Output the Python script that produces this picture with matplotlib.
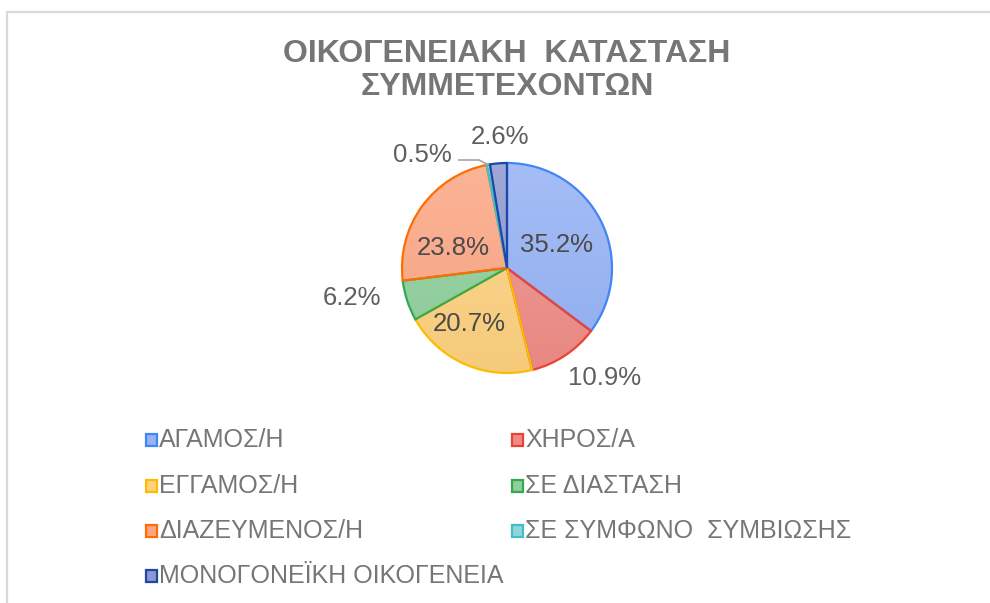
"""pie chart: family status of participants"""

import numpy as np
import matplotlib as mpl
mpl.use('Agg')
import matplotlib.pyplot as plt
from matplotlib.colors import LinearSegmentedColormap, to_rgb
from matplotlib.lines import Line2D
from matplotlib.patches import Rectangle

plt.rcParams['font.family'] = ['Liberation Sans', 'DejaVu Sans']

title = 'ΟΙΚΟΓΕΝΕΙΑΚΗ  ΚΑΤΑΣΤΑΣΗ\nΣΥΜΜΕΤΕΧΟΝΤΩΝ'
categories = ['ΑΓΑΜΟΣ/Η', 'ΧΗΡΟΣ/Α', 'ΕΓΓΑΜΟΣ/Η', 'ΣΕ ΔΙΑΣΤΑΣΗ',
              'ΔΙΑΖΕΥΜΕΝΟΣ/Η', 'ΣΕ ΣΥΜΦΩΝΟ  ΣΥΜΒΙΩΣΗΣ', 'ΜΟΝΟΓΟΝΕΪΚΗ ΟΙΚΟΓΕΝΕΙΑ']
values = [35.2, 10.9, 20.7, 6.2, 23.8, 0.5, 2.6]

edge_colors = ['#4285f4', '#ea4335', '#fbbc04', '#34a853', '#ff6d01', '#46bdc6', '#1c48a8']
fill_colors = ['#95b2f5', '#ef8c86', '#fdd17f', '#8fcf9b', '#fca784', '#8fd6dc', '#8e98cf']

# label offsets from the centre, in units of the radius (Excel "best fit")
label_pos = [(0.47, 0.22), (0.93, -1.05), (-0.36, -0.53), (-1.48, -0.29),
             (-0.51, 0.19), (-0.81, 1.08), (-0.07, 1.25)]
label_inside = [True, False, True, False, True, False, False]

W, H = 990, 603
cx, cy, R = 507, 268, 105

fig = plt.figure(figsize=(W / 100, H / 100), dpi=100)
fig.patch.set_facecolor('white')

# chart frame (only top and left visible)
fig.add_artist(Line2D([7 / W, 7 / W, 1], [0, 1 - 12 / H, 1 - 12 / H],
                      color='#d9d9d9', lw=1.6))

fig.text(cx / W, 1 - 70.5 / H, title, ha='center', va='center',
         fontsize=23, fontweight='bold', color='#767676', linespacing=1.15)

half = 200
ax = fig.add_axes([(cx - half) / W, (H - cy - half) / H, 2 * half / W, 2 * half / H])
ax.axis('off')

wedges, _ = ax.pie(values, startangle=90, counterclock=False, radius=1,
                   wedgeprops=dict(linewidth=1.6))

grad = np.linspace(0, 1, 256).reshape(-1, 1)
for w, fc, ec in zip(wedges, fill_colors, edge_colors):
    w.set_facecolor('none')
    w.set_edgecolor(ec)
    w.set_zorder(3)
    base = np.array(to_rgb(fc))
    top = base + (1 - base) * 0.15
    bot = base * 0.97
    cmap = LinearSegmentedColormap.from_list('g', [bot, top])
    im = ax.imshow(grad, cmap=cmap, extent=(-1, 1, -1, 1), origin='lower',
                   aspect='auto', zorder=2)
    im.set_clip_path(w)
# pie() and imshow() reset the limits, so set them afterwards
ax.set_xlim(-half / R, half / R)
ax.set_ylim(-half / R, half / R)
ax.set_aspect('equal')

total = sum(values)
for v, (lx, ly), inside in zip(values, label_pos, label_inside):
    ax.text(lx, ly, '%.1f%%' % v, ha='center', va='center', fontsize=18.5,
            color='#4a4a4a' if inside else '#5f5f5f', zorder=5)

# leader line for the smallest slice
cum = sum(values[:5]) + values[5] / 2
ang = np.deg2rad(90 - 360 * cum / total)
px, py = np.cos(ang), np.sin(ang)
ax.plot([(458 - cx) / R, (479 - cx) / R, px], [(cy - 160) / R, (cy - 160) / R, py],
        color='#a6a6a6', lw=1.2, zorder=4, solid_capstyle='butt')

# legend, row-major in two columns
col_x = [146, 512]
row_y = [440, 486, 531, 576]
for i, (name, fc, ec) in enumerate(zip(categories, fill_colors, edge_colors)):
    x = col_x[i % 2]
    y = row_y[i // 2]
    fig.add_artist(Rectangle((x / W, 1 - (y + 6) / H), 11 / W, 12 / H,
                             facecolor=fc, edgecolor=ec, lw=1.6))
    fig.text((x + 13) / W, 1 - y / H, name, ha='left', va='center',
             fontsize=18, color='#767676')

fig.savefig('out.png', dpi=100)
